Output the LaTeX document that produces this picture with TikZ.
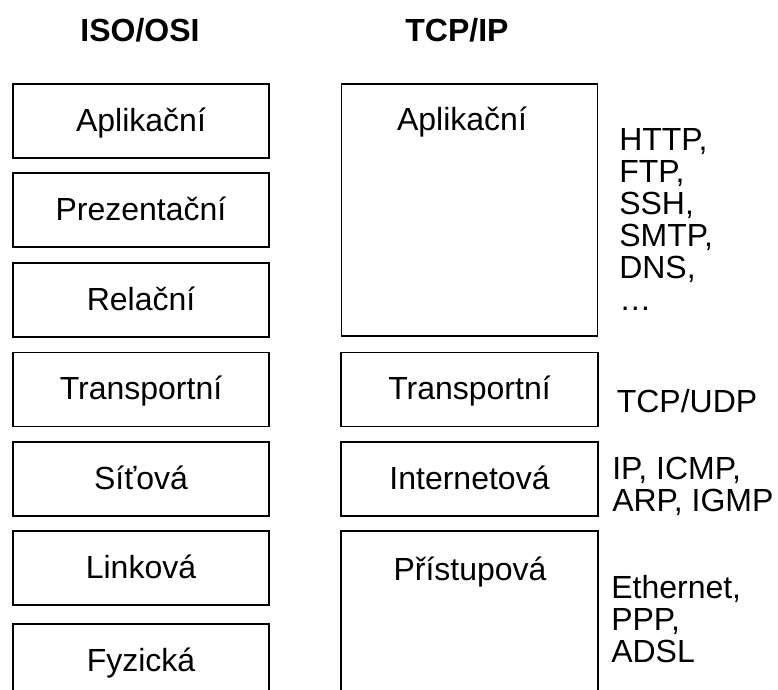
\documentclass[tikz,border=0pt]{standalone}
\usepackage{fontspec}
\setmainfont{Liberation Sans}
\usepackage{tikz}
\usetikzlibrary{positioning}

\begin{document}
\begin{tikzpicture}[x=0.75pt, y=-0.75pt,
  font=\fontsize{24}{24}\selectfont,
  layer/.style={draw, line width=1.2pt, minimum width=192pt,
    minimum height=55.5pt, inner sep=0pt, text height=17pt, text depth=2pt},
  tall/.style={layer, minimum height=189pt},
  lab/.style={anchor=base, inner sep=0pt},
  proto/.style={anchor=base west, inner sep=0pt, align=left},
  head/.style={anchor=base, inner sep=0pt,
    font=\fontsize{24}{24}\selectfont\bfseries}]
\useasboundingbox (0,0) rectangle (778,689);
\clip (0,0) rectangle (778,689);
% ---- headings ----
\node[head] (hiso) at (140,41) {ISO/OSI};
\node[head] (htcp) at (457,41) {TCP/IP};
% ---- left column: ISO/OSI layers ----
\node[layer] (oapp) at (141,121) {Aplikační};
\node[layer] (opre) at (141,210) {Prezentační};
\node[layer] (orel) at (141,300) {Relační};
\node[layer] (otra) at (141,389.5) {Transportní};
\node[layer] (osit) at (141,479) {Síťová};
\node[layer] (olin) at (141,568) {Linková};
\node[layer] (ofyz) at (141,661) {Fyzická};
% ---- right column: TCP/IP layers ----
\node[tall] (tapp) at (469.5,210) {};
\node[lab] (tappl) at (462,130) {Aplikační};
\node[layer, minimum width=192.75pt] (ttra) at (469.5,389.5) {Transportní};
\node[layer, minimum width=192.75pt] (tint) at (469.5,479) {Internetová};
\node[tall, minimum width=192.75pt] (tpri) at (469.5,657) {};
\node[lab] (tpril) at (470,580) {Přístupová};
% ---- protocols (anchored at the last line) ----
\node[proto] (papp) at (619,310) {HTTP,\\FTP,\\SSH,\\SMTP,\\DNS,\\\dots};
\node[proto] (ptra) at (616.5,412) {TCP/UDP};
\node[proto] (pint) at (612,511) {IP, ICMP,\\ARP, IGMP};
\node[proto] (ppri) at (611,662) {Ethernet,\\PPP,\\ADSL};
\end{tikzpicture}
\end{document}
